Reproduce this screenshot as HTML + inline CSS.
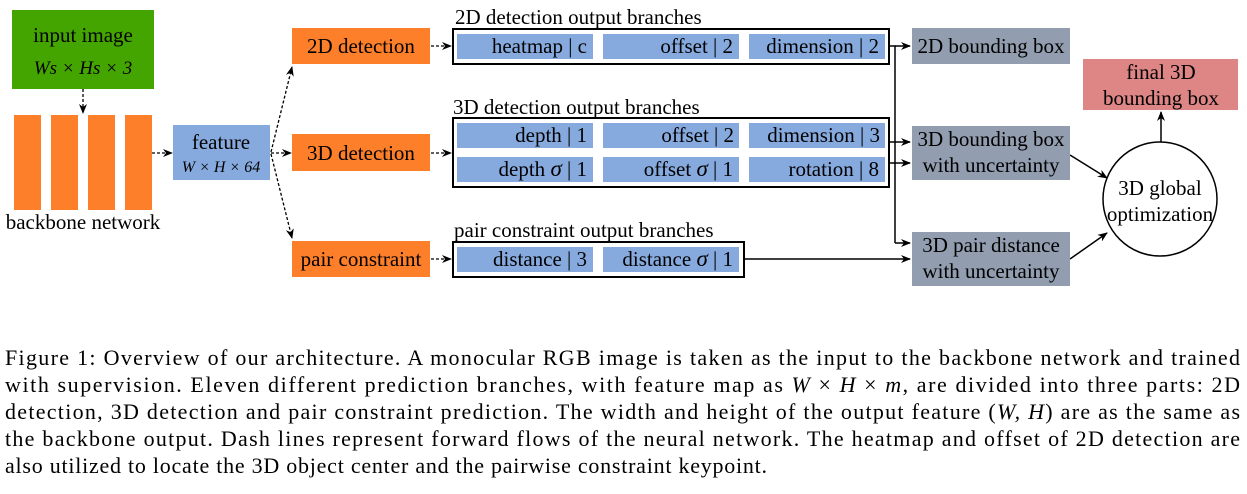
<!DOCTYPE html>
<html><head><meta charset="utf-8"><style>
html,body{margin:0;padding:0;background:#fff;}
svg, svg text{font-family:"Liberation Serif","Times New Roman",serif;}
</style></head><body>
<svg width="1247" height="489" viewBox="0 0 1247 489" xmlns="http://www.w3.org/2000/svg" font-family="Liberation Serif, serif">
<defs>
<marker id="a" markerWidth="10" markerHeight="8" refX="9" refY="4" orient="auto" markerUnits="userSpaceOnUse">
<path d="M0,0 L10,4 L0,8 L3,4 Z" fill="#000"/></marker>
</defs>
<!-- input -->
<rect x="12" y="10" width="142" height="79" fill="#44a500"/>
<text x="83" y="42" font-size="21" text-anchor="middle">input image</text>
<text x="83" y="74" font-size="19" font-style="italic" text-anchor="middle">Ws × Hs × 3</text>
<line x1="83" y1="89" x2="83" y2="113" stroke="#000" stroke-width="1.3" stroke-dasharray="3,2" marker-end="url(#a)"/>
<!-- backbone -->
<rect x="14" y="115" width="27" height="95" fill="#fe7f2a"/>
<rect x="51" y="115" width="27" height="95" fill="#fe7f2a"/>
<rect x="88" y="115" width="27" height="95" fill="#fe7f2a"/>
<rect x="125" y="115" width="27" height="95" fill="#fe7f2a"/>
<text x="83" y="229" font-size="21" text-anchor="middle">backbone network</text>
<line x1="152" y1="153" x2="172" y2="153" stroke="#000" stroke-width="1.3" stroke-dasharray="3,2" marker-end="url(#a)"/>
<!-- feature -->
<rect x="173" y="125" width="97" height="55" fill="#87aade"/>
<text x="221" y="149" font-size="21" text-anchor="middle">feature</text>
<text x="221" y="172" font-size="16" font-style="italic" text-anchor="middle">W × H × 64</text>
<g stroke="#000" stroke-width="1.3" stroke-dasharray="3,2" fill="none">
<line x1="271" y1="152" x2="292" y2="67" marker-end="url(#a)"/>
<line x1="271" y1="153" x2="291" y2="153" marker-end="url(#a)"/>
<line x1="271" y1="154" x2="292" y2="238" marker-end="url(#a)"/>
<line x1="431" y1="46" x2="451" y2="46" marker-end="url(#a)"/>
<line x1="431" y1="153" x2="451" y2="153" marker-end="url(#a)"/>
<line x1="431" y1="259" x2="451" y2="259" marker-end="url(#a)"/>
</g>
<g fill="#fe7f2a">
<rect x="292" y="28" width="138" height="36"/>
<rect x="292" y="134" width="138" height="37"/>
<rect x="292" y="241" width="138" height="36"/>
</g>
<g font-size="21" text-anchor="middle">
<text x="361" y="53">2D detection</text>
<text x="361" y="160">3D detection</text>
<text x="361" y="266">pair constraint</text>
</g>
<!-- branch boxes -->
<g font-size="21">
<text x="455" y="24">2D detection output branches</text>
<text x="453" y="114">3D detection output branches</text>
<text x="454" y="237">pair constraint output branches</text>
</g>
<g fill="none" stroke="#000" stroke-width="2">
<rect x="453" y="29" width="436" height="35"/>
<rect x="453" y="118" width="436" height="69"/>
<rect x="453" y="242" width="291" height="35"/>
</g>
<g fill="#87aade">
<rect x="457" y="34" width="136" height="25"/><rect x="603" y="34" width="136" height="25"/><rect x="749" y="34" width="136" height="25"/>
<rect x="457" y="123" width="136" height="25"/><rect x="603" y="123" width="136" height="25"/><rect x="749" y="123" width="136" height="25"/>
<rect x="457" y="157" width="136" height="25"/><rect x="603" y="157" width="136" height="25"/><rect x="749" y="157" width="136" height="25"/>
<rect x="457" y="247" width="136" height="25"/><rect x="603" y="247" width="136" height="25"/>
</g>
<g font-size="21" text-anchor="end">
<text x="587" y="53">heatmap | c</text>
<text x="733" y="53">offset | 2</text>
<text x="879" y="53">dimension | 2</text>
<text x="587" y="142">depth | 1</text>
<text x="734" y="142">offset | 2</text>
<text x="880" y="142">dimension | 3</text>
<text x="587" y="176">depth  <tspan font-style="italic" font-size="23">σ</tspan> | 1</text>
<text x="733" y="176">offset  <tspan font-style="italic" font-size="23">σ</tspan> | 1</text>
<text x="879" y="176">rotation | 8</text>
<text x="587" y="266">distance | 3</text>
<text x="733" y="266">distance  <tspan font-style="italic" font-size="23">σ</tspan> | 1</text>
</g>
<!-- solid connectors -->
<g stroke="#000" stroke-width="1.5" fill="none">
<polyline points="889,46 895,46 895,243"/>
<line x1="895" y1="46" x2="910" y2="46" marker-end="url(#a)"/>
<line x1="889" y1="142" x2="910" y2="142" marker-end="url(#a)"/>
<line x1="889" y1="163" x2="910" y2="163" marker-end="url(#a)"/>
<line x1="895" y1="243" x2="910" y2="243" marker-end="url(#a)"/>
<line x1="744" y1="259" x2="910" y2="259" marker-end="url(#a)"/>
<line x1="1070" y1="155" x2="1107" y2="178" marker-end="url(#a)"/>
<line x1="1070" y1="259" x2="1107" y2="233" marker-end="url(#a)"/>
<line x1="1161" y1="148" x2="1161" y2="112" marker-end="url(#a)"/>
</g>
<g fill="#929daf">
<rect x="912" y="28" width="158" height="36"/>
<rect x="912" y="126" width="158" height="54"/>
<rect x="912" y="232" width="158" height="54"/>
</g>
<g font-size="21" text-anchor="middle">
<text x="991" y="53">2D bounding box</text>
<text x="991" y="146">3D bounding box</text>
<text x="991" y="172">with uncertainty</text>
<text x="991" y="252">3D pair distance</text>
<text x="991" y="278">with uncertainty</text>
</g>
<rect x="1083" y="59" width="155" height="51" fill="#de8585"/>
<text x="1161" y="79" font-size="21" text-anchor="middle">final 3D</text>
<text x="1161" y="105" font-size="21" text-anchor="middle">bounding box</text>
<circle cx="1160" cy="199" r="57" fill="#fff" stroke="#000" stroke-width="1.5"/>
<text x="1160" y="195" font-size="21" text-anchor="middle">3D global</text>
<text x="1160" y="221" font-size="21" text-anchor="middle">optimization</text>
<!-- caption -->
<g font-size="22">
<text x="5" y="365" textLength="1235" lengthAdjust="spacing">Figure 1: Overview of our architecture. A monocular RGB image is taken as the input to the backbone network and trained</text>
<text x="5" y="392" textLength="1235" lengthAdjust="spacing">with supervision. Eleven different prediction branches, with feature map as <tspan font-style="italic">W</tspan> × <tspan font-style="italic">H</tspan> × <tspan font-style="italic">m</tspan>, are divided into three parts: 2D</text>
<text x="5" y="419" textLength="1235" lengthAdjust="spacing">detection, 3D detection and pair constraint prediction. The width and height of the output feature (<tspan font-style="italic">W, H</tspan>) are as the same as</text>
<text x="5" y="446" textLength="1235" lengthAdjust="spacing">the backbone output. Dash lines represent forward flows of the neural network. The heatmap and offset of 2D detection are</text>
<text x="5" y="473" textLength="762" lengthAdjust="spacing">also utilized to locate the 3D object center and the pairwise constraint keypoint.</text>
</g>
</svg>
</body></html>
